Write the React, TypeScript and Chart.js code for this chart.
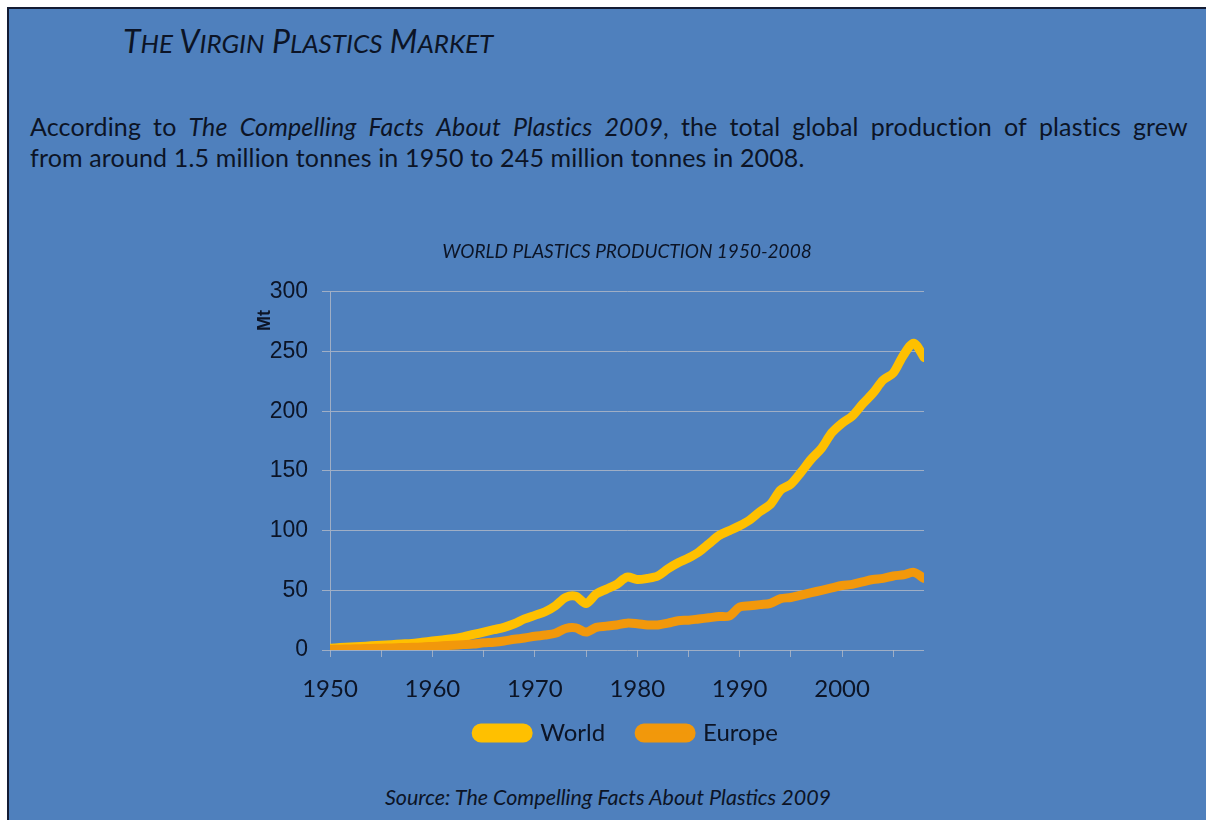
import React, { useEffect, useRef } from "react";
import { Chart, registerables } from "chart.js";

Chart.register(...registerables);

const years: number[] = [
  1950, 1951, 1952, 1953, 1954, 1955, 1956, 1957, 1958, 1959,
  1960, 1961, 1962, 1963, 1964, 1965, 1966, 1967, 1968, 1969,
  1970, 1971, 1972, 1973, 1974, 1975, 1976, 1977, 1978, 1979,
  1980, 1981, 1982, 1983, 1984, 1985, 1986, 1987, 1988, 1989,
  1990, 1991, 1992, 1993, 1994, 1995, 1996, 1997, 1998, 1999,
  2000, 2001, 2002, 2003, 2004, 2005, 2006, 2007, 2008,
];

const worldMt: number[] = [
  1.5, 2, 2.5, 3, 3.5, 4, 4.5, 5, 5.5, 6.5,
  7.5, 8.5, 9.5, 11, 13, 15, 17, 19, 22, 26,
  29, 32, 37, 44, 45, 39, 47, 51, 55, 61,
  59, 60, 62, 68, 73, 77, 82, 89, 96, 100,
  104, 109, 116, 122, 134, 139, 149, 160, 169, 182,
  190, 196, 206, 215, 226, 232, 247, 257, 245,
];

const europeMt: number[] = [
  0.5, 0.7, 0.9, 1.1, 1.3, 1.5, 1.7, 2, 2.2, 2.5,
  3, 3.5, 4, 4.5, 5, 6, 6.5, 7.5, 9, 10,
  11.5, 12.5, 14, 18, 18.5, 15, 19, 20, 21, 22.5,
  22, 21, 21, 22.5, 24.5, 25, 26, 27, 28, 28.5,
  36, 37, 38, 39, 43, 44, 46, 48, 50, 52,
  54, 55, 57, 59, 60, 62, 63, 65, 60,
];

const seriesNames: string[] = ["World", "Europe"];
const yTickStep = 50;
const yMax = 300;
const xTickStep = 5;
const xLabelEvery = 10;

const chartTitle = "WORLD PLASTICS PRODUCTION 1950-2008";
const yAxisTitle = "Mt";

const TEXT = "#0c1426";
const GRID = "rgba(185,190,200,0.75)";
const YELLOW = "#FFC000";
const ORANGE = "#F2980B";

export default function App() {
  const canvasRef = useRef<HTMLCanvasElement | null>(null);

  useEffect(() => {
    const canvas = canvasRef.current;
    if (!canvas) return;

    const mtPlugin = {
      id: "mtLabel",
      afterDraw(chart: any) {
        const ctx = chart.ctx;
        const ys = chart.scales.y;
        const x = chart.chartArea.left - 65;
        const y = ys.getPixelForValue(276);
        ctx.save();
        ctx.translate(x, y);
        ctx.rotate(-Math.PI / 2);
        ctx.font = "bold 18px 'Liberation Sans', Arial, sans-serif";
        ctx.fillStyle = TEXT;
        ctx.textAlign = "center";
        ctx.textBaseline = "middle";
        ctx.fillText(yAxisTitle, 0, 0);
        ctx.restore();
      },
    };

    const lineStyle = {
      borderWidth: 9,
      borderCapStyle: "round",
      borderJoinStyle: "round",
      pointRadius: 0,
      tension: 0.3,
    };

    const chart = new Chart(canvas, {
      type: "line",
      data: {
        datasets: [
          {
            label: seriesNames[0],
            data: years.map((yr, i) => ({ x: yr, y: worldMt[i] })),
            borderColor: YELLOW,
            backgroundColor: YELLOW,
            ...lineStyle,
            order: 1,
          },
          {
            label: seriesNames[1],
            data: years.map((yr, i) => ({ x: yr, y: europeMt[i] })),
            borderColor: ORANGE,
            backgroundColor: ORANGE,
            ...lineStyle,
            order: 0,
          },
        ],
      },
      options: {
        animation: false,
        responsive: false,
        maintainAspectRatio: false,
        layout: { padding: { left: 0, right: 88, top: 0, bottom: 0 } },
        plugins: {
          title: {
            display: true,
            fullSize: false,
            text: chartTitle,
            color: TEXT,
            font: { family: "Lato", size: 19, style: "italic", weight: "normal" },
            padding: { top: 15, bottom: 29 },
          },
          legend: {
            display: true,
            fullSize: false,
            position: "bottom",
            labels: {
              color: TEXT,
              font: { family: "Lato", size: 24 },
              boxWidth: 52,
              boxHeight: 10,
              useBorderRadius: true,
              borderRadius: 5,
              padding: 34,
              sort: (a: any, b: any) => a.datasetIndex - b.datasetIndex,
            },
          },
          tooltip: { enabled: false },
        },
        scales: {
          x: {
            type: "linear",
            min: years[0],
            max: years[years.length - 1],
            afterFit: (s: any) => {
              s.height = 37;
            },
            grid: {
              drawOnChartArea: false,
              drawTicks: true,
              tickLength: 7,
              color: GRID,
            },
            border: { display: false },
            ticks: {
              stepSize: xTickStep,
              includeBounds: false,
              autoSkip: false,
              maxRotation: 0,
              mirror: true,
              padding: -54,
              color: TEXT,
              font: { family: "Lato", size: 24 },
              callback: (v: any) => (Number(v) % xLabelEvery === 0 ? String(v) : ""),
            },
          },
          y: {
            min: 0,
            max: yMax,
            afterFit: (s: any) => {
              s.width = 90;
            },
            grid: {
              color: GRID,
              tickLength: 8,
              lineWidth: 1,
            },
            border: { display: true, color: GRID, width: 1 },
            ticks: {
              stepSize: yTickStep,
              padding: 14,
              color: TEXT,
              font: { family: "'Liberation Sans', Arial, sans-serif", size: 23 },
            },
          },
        },
      },
      plugins: [mtPlugin],
    } as any);

    return () => chart.destroy();
  }, []);

  const base: React.CSSProperties = {
    position: "absolute",
    color: TEXT,
    fontFamily: "Lato, sans-serif",
    margin: 0,
  };

  return (
    <div
      style={{
        position: "fixed",
        left: 7,
        top: 7,
        width: 1300,
        height: 900,
        background: "#4F80BD",
        borderTop: "2px solid #141c33",
        borderLeft: "2px solid #141c33",
        overflow: "hidden",
      }}
    >
      <div
        style={{
          ...base,
          left: 114,
          top: 16,
          fontSize: 32,
          lineHeight: "32px",
          fontStyle: "italic",
          whiteSpace: "nowrap",
        }}
      >
        T<span style={{ fontSize: 26 }}>HE</span> V<span style={{ fontSize: 26 }}>IRGIN</span> P
        <span style={{ fontSize: 26 }}>LASTICS</span> M<span style={{ fontSize: 26 }}>ARKET</span>
      </div>

      <div
        style={{
          ...base,
          left: 21,
          top: 102,
          width: 1158,
          fontSize: 25,
          lineHeight: "31px",
          letterSpacing: 0.15,
        }}
      >
        <div style={{ whiteSpace: "nowrap", display: "flex", justifyContent: "space-between" }}>
          <span>According</span>
          <span>to</span>
          <i>The</i>
          <i>Compelling</i>
          <i>Facts</i>
          <i>About</i>
          <i>Plastics</i>
          <span>
            <i>2009</i>,
          </span>
          <span>the</span>
          <span>total</span>
          <span>global</span>
          <span>production</span>
          <span>of</span>
          <span>plastics</span>
          <span>grew</span>
        </div>
        <div>from around 1.5 million tonnes in 1950 to 245 million tonnes in 2008.</div>
      </div>

      <div style={{ position: "absolute", left: 231, top: 216, width: 772, height: 530 }}>
        <canvas ref={canvasRef} width={772} height={530} style={{ width: 772, height: 530, display: "block" }} />
      </div>

      <div
        style={{
          ...base,
          left: 0,
          width: 1198,
          top: 775,
          textAlign: "center",
          fontSize: 21.5,
          lineHeight: "26px",
          fontStyle: "italic",
        }}
      >
        Source: The Compelling Facts About Plastics 2009
      </div>
    </div>
  );
}
